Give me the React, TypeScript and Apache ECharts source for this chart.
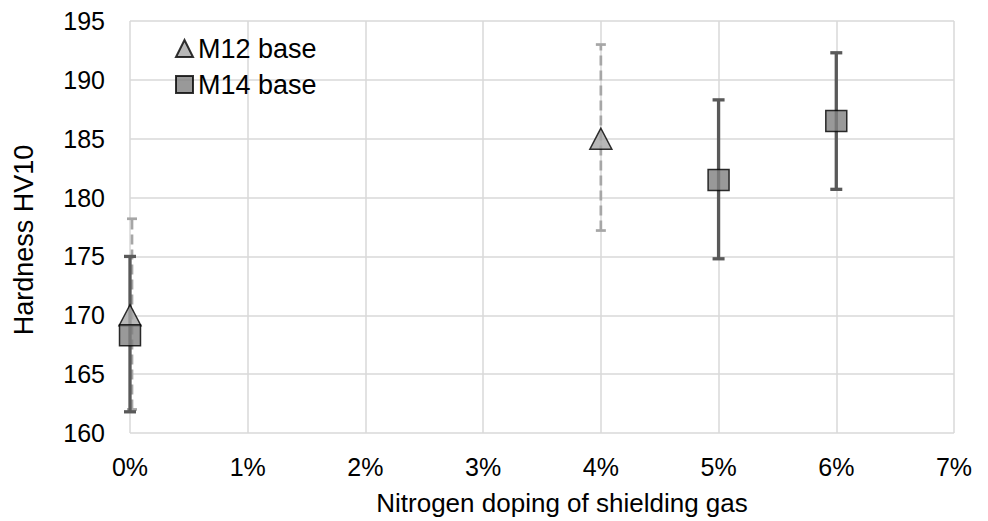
import React, { useEffect, useRef } from "react";
import * as echarts from "echarts";

const m12X = [0, 4];
const m12Y = [170, 185];
const m12Low = [162, 177.2];
const m12High = [178.2, 193];

const m14X = [0, 5, 6];
const m14Y = [168.3, 181.5, 186.5];
const m14Low = [161.8, 174.8, 180.7];
const m14High = [175, 188.3, 192.3];

const FONT = "'Liberation Sans', Arial, sans-serif";

function errSeries(name: string, xs: number[], lo: number[], hi: number[], color: string, width: number, dash: number[] | null, dx: number, cap: number) {
  return {
    type: "custom",
    name: name + "_err",
    z: 1,
    silent: true,
    data: xs.map((x, i) => [x, lo[i], hi[i]]),
    renderItem: (params: any, api: any) => {
      const p1 = api.coord([api.value(0), api.value(1)]);
      const p2 = api.coord([api.value(0), api.value(2)]);
      const x = p1[0] + (api.value(0) === 0 ? dx : 0);
      const style: any = { stroke: color, lineWidth: width };
      if (dash) style.lineDash = dash;
      const capStyle = { stroke: color, lineWidth: width };
      return {
        type: "group",
        children: [
          { type: "line", shape: { x1: x, y1: p1[1], x2: x, y2: p2[1] }, style },
          { type: "line", shape: { x1: x - cap / 2, y1: p1[1], x2: x + cap / 2, y2: p1[1] }, style: capStyle },
          { type: "line", shape: { x1: x - cap / 2, y1: p2[1], x2: x + cap / 2, y2: p2[1] }, style: capStyle },
        ],
      };
    },
  };
}

export default function App() {
  const ref = useRef<HTMLDivElement>(null);
  useEffect(() => {
    if (!ref.current) return;
    const chart = echarts.init(ref.current, null, { renderer: "svg" });
    chart.setOption({
      animation: false,
      backgroundColor: "#ffffff",
      grid: { left: 130, right: 34, top: 21, bottom: 85 },
      legend: {
        left: 170,
        top: 30,
        orient: "vertical",
        itemGap: 9,
        itemWidth: 17,
        itemHeight: 17,
        textStyle: { fontFamily: FONT, fontSize: 27, color: "#000" },
        data: [
          { name: "M12 base", icon: "triangle" },
          { name: "M14 base", icon: "rect" },
        ],
      },
      xAxis: {
        type: "value",
        min: 0,
        max: 7,
        interval: 1,
        name: "Nitrogen doping of shielding gas",
        nameLocation: "middle",
        nameGap: 57,
        nameTextStyle: { fontFamily: FONT, fontSize: 26, color: "#000", padding: [0, 0, 0, 40] },
        axisLine: { show: false },
        axisTick: { show: false },
        axisLabel: { fontFamily: FONT, fontSize: 25, color: "#000", margin: 21, formatter: (v: number) => v + "%" },
        splitLine: { show: true, lineStyle: { color: "#d9d9d9", width: 1.5 } },
      },
      yAxis: {
        type: "value",
        min: 160,
        max: 195,
        interval: 5,
        name: "Hardness HV10",
        nameLocation: "middle",
        nameGap: 93,
        nameTextStyle: { fontFamily: FONT, fontSize: 27, color: "#000", padding: [0, 26, 0, 0] },
        axisLine: { show: false },
        axisTick: { show: false },
        axisLabel: { fontFamily: FONT, fontSize: 25, color: "#000", margin: 25 },
        splitLine: { show: true, lineStyle: { color: "#d9d9d9", width: 1.5 } },
      },
      series: [
        errSeries("M12 base", m12X, m12Low, m12High, "#a6a6a6", 2.7, [10, 5], 2, 10),
        errSeries("M14 base", m14X, m14Low, m14High, "#595959", 3.3, null, 0, 12),
        {
          type: "scatter",
          name: "M12 base",
          z: 3,
          symbol: "triangle",
          symbolSize: [22, 21],
          itemStyle: { color: "#a6a6a6", borderColor: "#000", borderWidth: 1.5 },
          data: m12X.map((x, i) => [x, m12Y[i]]),
        },
        {
          type: "scatter",
          name: "M14 base",
          z: 4,
          symbol: "rect",
          symbolSize: 21,
          itemStyle: { color: "#808080", borderColor: "#000", borderWidth: 1.5 },
          data: m14X.map((x, i) => [x, m14Y[i]]),
        },
      ],
    });
    return () => chart.dispose();
  }, []);
  return <div ref={ref} style={{ width: 988, height: 521, position: "absolute", left: 0, top: 0 }} />;
}
